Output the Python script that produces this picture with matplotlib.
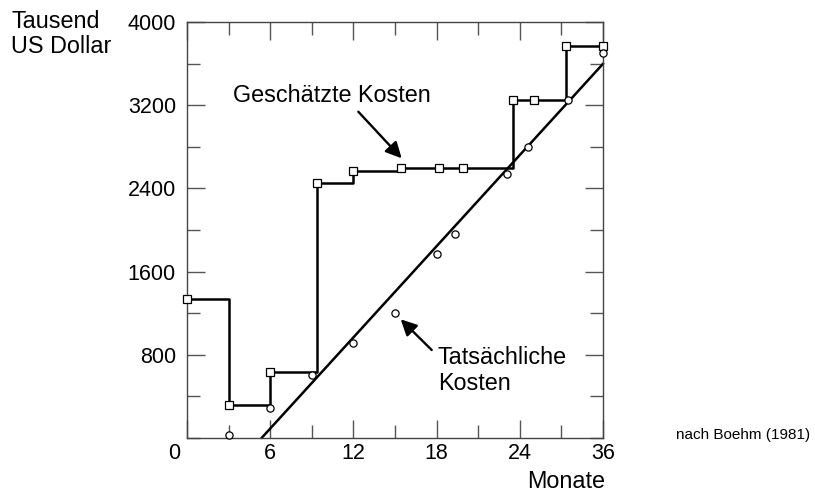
import matplotlib
matplotlib.use("Agg")
import matplotlib.pyplot as plt
from matplotlib.ticker import MultipleLocator, FixedLocator
from matplotlib.transforms import ScaledTranslation

plt.rcParams['font.family'] = ['Liberation Sans', 'DejaVu Sans']

# ---- data (x in axis units; last tick is labelled "36" as in the original) ----
est_months = [0, 3, 6, 9.4, 12, 15.4, 18.2, 19.9, 23.5, 25, 27.3, 30]
est_values = [1340, 315, 630, 2455, 2570, 2595, 2595, 2595, 3250, 3250, 3770, 3770]

act_months = [3, 6, 9, 12, 15, 18, 19.3, 23.1, 24.6, 27.5, 30]
act_values = [30, 290, 600, 910, 1200, 1765, 1965, 2540, 2800, 3250, 3705]

trend_months = [5.4, 30]
trend_values = [0, 3600]

x_tick_pos = [0, 6, 12, 18, 24, 30]
x_tick_labels = ['0', '6', '12', '18', '24', '36']
y_tick_pos = [800, 1600, 2400, 3200, 4000]
y_tick_labels = ['800', '1600', '2400', '3200', '4000']

W, H = 815, 493
fig = plt.figure(figsize=(W / 100, H / 100), dpi=100)
L, R, T, B = 187, 603, 22.3, 437.7
ax = fig.add_axes([L / W, 1 - B / H, (R - L) / W, (B - T) / H])


def fx(x):
    return x / W


def fy(y):
    return 1 - y / H


ax.set_xlim(0, 30)
ax.set_ylim(0, 4000)

# trend line (actual costs)
ax.plot(trend_months, trend_values, color='black', lw=1.8, zorder=2, clip_on=False)
# estimated costs as step line
ax.step(est_months, est_values, where='post', color='black', lw=1.8, zorder=3, clip_on=False)
ax.plot(est_months, est_values, ls='none', marker='s', ms=5.5, mfc='white', mec='black',
        mew=0.9, zorder=4, clip_on=False)
# actual cost points
ax.plot(act_months, act_values, ls='none', marker='o', ms=5.2, mfc='white', mec='black',
        mew=0.9, zorder=5, clip_on=False)

# ticks
ax.xaxis.set_major_locator(FixedLocator(x_tick_pos))
ax.set_xticklabels(x_tick_labels)
ax.xaxis.set_minor_locator(FixedLocator([3, 9, 15, 21, 27]))
ax.yaxis.set_major_locator(FixedLocator(y_tick_pos))
ax.set_yticklabels(y_tick_labels)
ax.yaxis.set_minor_locator(MultipleLocator(400))

ax.tick_params(which='both', direction='in', top=True, right=True, color='#555555', width=1.0)
ax.tick_params(which='major', length=13)
ax.tick_params(which='minor', length=9.5)
ax.tick_params(axis='x', which='major', labelsize=15.5, pad=4)
ax.tick_params(axis='y', which='major', labelsize=15.5, pad=8)

for s in ax.spines.values():
    s.set_color('#444444')
    s.set_linewidth(1.0)

# shift the "0" label left as in the original
lab0 = ax.get_xticklabels()[0]
lab0.set_transform(lab0.get_transform() + ScaledTranslation(-13 / 100, 0, fig.dpi_scale_trans))

fs = 16.8
fig.text(fx(11), fy(28.3), 'Tausend', fontsize=fs, ha='left', va='baseline')
fig.text(fx(11), fy(53.3), 'US Dollar', fontsize=fs, ha='left', va='baseline')
fig.text(fx(233), fy(101.7), 'Geschätzte Kosten', fontsize=fs, ha='left', va='baseline')
fig.text(fx(438), fy(364), 'Tatsächliche', fontsize=fs, ha='left', va='baseline')
fig.text(fx(438), fy(390), 'Kosten', fontsize=fs, ha='left', va='baseline')
fig.text(fx(605), fy(488), 'Monate', fontsize=fs, ha='right', va='baseline')
fig.text(fx(676), fy(439.5), 'nach Boehm (1981)', fontsize=11, ha='left', va='baseline')

arrow = dict(arrowstyle='-|>', color='black', lw=1.7, mutation_scale=24, shrinkA=0, shrinkB=0)
ax.annotate('', xy=(fx(401.7), fy(158.3)), xycoords='figure fraction',
            xytext=(fx(358.3), fy(111.7)), textcoords='figure fraction', arrowprops=arrow)
ax.annotate('', xy=(fx(400.7), fy(319.3)), xycoords='figure fraction',
            xytext=(fx(431.7), fy(350)), textcoords='figure fraction', arrowprops=arrow)

fig.savefig('out.png', dpi=100)
